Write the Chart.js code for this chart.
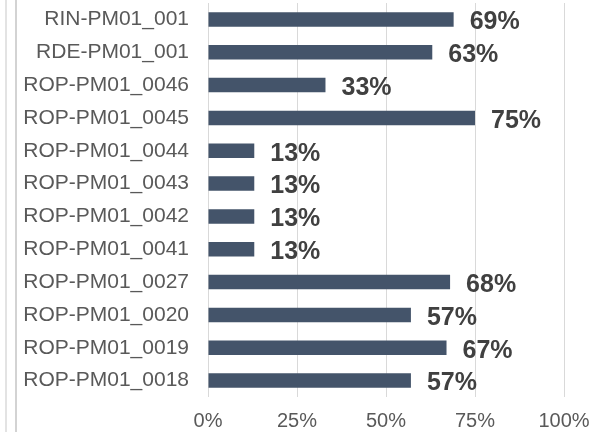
<!DOCTYPE html>
<html>
<head>
<meta charset="utf-8">
<script src="https://cdn.jsdelivr.net/npm/chart.js@4"></script>
<style>
  html, body { margin: 0; padding: 0; background: #ffffff; }
  #wrap { position: relative; width: 590px; height: 432px; }
  canvas { display: block; }
</style>
</head>
<body>
<div id="wrap"><canvas id="c" width="590" height="432"></canvas></div>
<script>
const categories = [
  "RIN-PM01_001", "RDE-PM01_001", "ROP-PM01_0046", "ROP-PM01_0045",
  "ROP-PM01_0044", "ROP-PM01_0043", "ROP-PM01_0042", "ROP-PM01_0041",
  "ROP-PM01_0027", "ROP-PM01_0020", "ROP-PM01_0019", "ROP-PM01_0018"
];
const values = [0.69, 0.63, 0.33, 0.75, 0.13, 0.13, 0.13, 0.13, 0.68, 0.57, 0.67, 0.57];
const tickValues = [0, 0.25, 0.5, 0.75, 1];

const FONT = "'Liberation Sans', Arial, sans-serif";

const frameLines = {
  id: 'frameLines',
  beforeDraw(chart) {
    const ctx = chart.ctx;
    ctx.save();
    ctx.fillStyle = '#e3e3e3';
    ctx.fillRect(5, 0, 2, chart.height);
    ctx.fillStyle = '#d3d3d3';
    ctx.fillRect(15, 0, 2, chart.height);
    ctx.restore();
  }
};

const valueLabels = {
  id: 'valueLabels',
  afterDatasetsDraw(chart) {
    const ctx = chart.ctx;
    const meta = chart.getDatasetMeta(0);
    ctx.save();
    ctx.font = "bold 25px " + FONT;
    ctx.fillStyle = '#404040';
    ctx.textAlign = 'left';
    ctx.textBaseline = 'middle';
    meta.data.forEach((bar, i) => {
      const v = chart.data.datasets[0].data[i];
      ctx.fillText(Math.round(v * 100) + '%', bar.x + 16, bar.y + 3);
    });
    ctx.restore();
  }
};

new Chart(document.getElementById('c'), {
  type: 'bar',
  data: {
    labels: categories,
    datasets: [{
      data: values,
      backgroundColor: '#44546a',
      borderWidth: 0,
      categoryPercentage: 1,
      barPercentage: 0.44
    }]
  },
  options: {
    indexAxis: 'y',
    responsive: false,
    animation: false,
    devicePixelRatio: 1,
    layout: { padding: { left: 0, right: 26, top: 3, bottom: 0 } },
    plugins: { legend: { display: false }, tooltip: { enabled: false } },
    scales: {
      x: {
        min: 0, max: 1,
        afterBuildTicks(scale) { scale.ticks = tickValues.map(v => ({ value: v })); },
        afterFit(scale) { scale.height = 35; },
        grid: { color: '#d9d9d9', lineWidth: 1, drawTicks: true, tickLength: 12, tickColor: 'rgba(0,0,0,0)' },
        border: { display: false },
        ticks: {
          padding: 0,
          color: '#595959',
          font: { family: FONT, size: 20 },
          callback: v => Math.round(v * 100) + '%'
        }
      },
      y: {
        afterFit(scale) { scale.width = 208; },
        grid: { display: true, drawOnChartArea: false, color: 'rgba(0,0,0,0)', drawTicks: true, tickLength: 19, tickColor: 'rgba(0,0,0,0)' },
        border: { display: false },
        ticks: {
          padding: 0,
          color: '#595959',
          font: { family: FONT, size: 21, lineHeight: 0.25 }
        }
      }
    }
  },
  plugins: [frameLines, valueLabels]
});
</script>
</body>
</html>
